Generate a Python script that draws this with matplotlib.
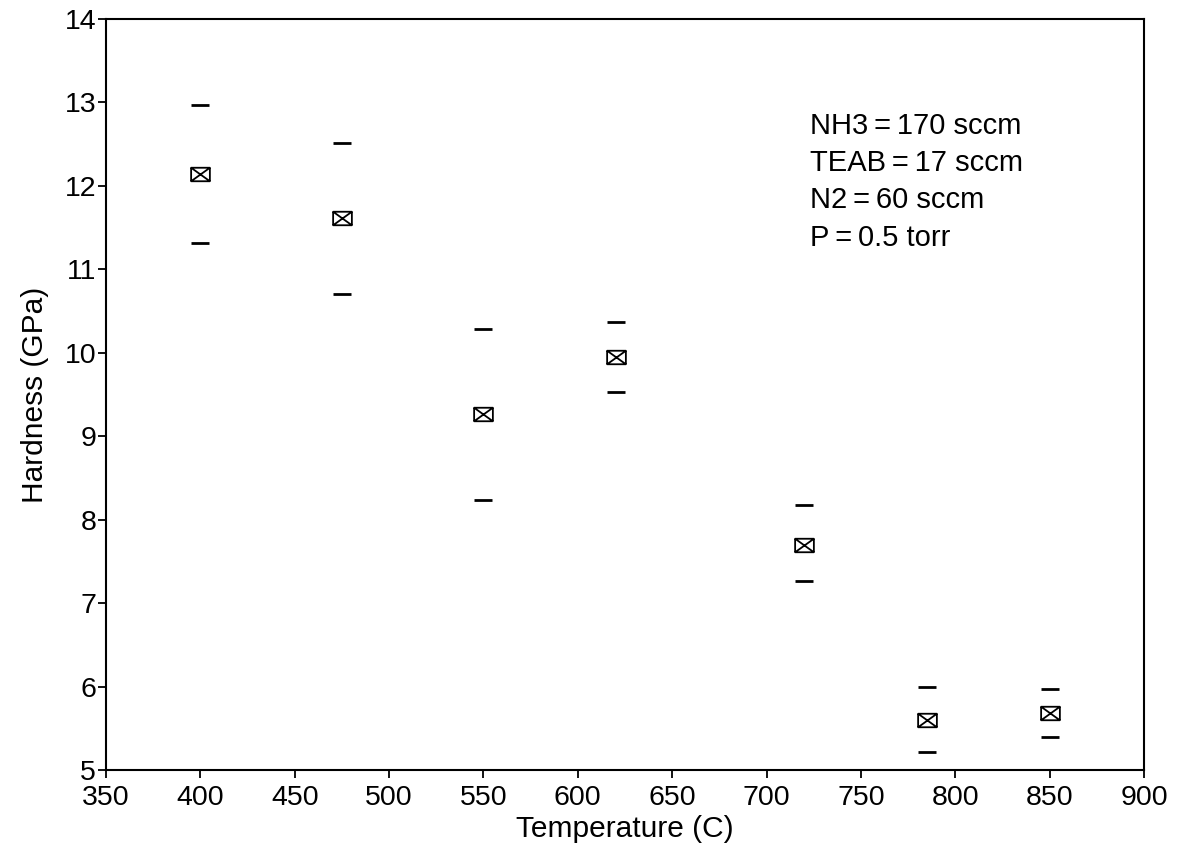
import matplotlib
matplotlib.use("Agg")
import matplotlib.pyplot as plt
from matplotlib.path import Path
import numpy as np

temperature = [400, 475, 550, 620, 720, 785, 850]
hardness = [12.14, 11.61, 9.27, 9.95, 7.70, 5.60, 5.68]
hardness_upper = [12.97, 12.51, 10.29, 10.37, 8.17, 6.00, 5.97]
hardness_lower = [11.31, 10.70, 8.24, 9.53, 7.27, 5.22, 5.40]
conditions = ["NH3=170 sccm", "TEAB=17 sccm", "N2=60 sccm", "P=0.5 torr"]

x_ticks = [350, 400, 450, 500, 550, 600, 650, 700, 750, 800, 850, 900]
y_ticks = [5, 6, 7, 8, 9, 10, 11, 12, 13, 14]

plt.rcParams['font.family'] = ['Liberation Sans', 'DejaVu Sans']

# Box-with-X marker
w, h = 1.0, 0.72
verts = [(-w, -h), (w, -h), (w, h), (-w, h), (-w, -h),
         (-w, -h), (w, h),
         (-w, h), (w, -h)]
codes = [Path.MOVETO, Path.LINETO, Path.LINETO, Path.LINETO, Path.CLOSEPOLY,
         Path.MOVETO, Path.LINETO,
         Path.MOVETO, Path.LINETO]
box_x = Path(verts, codes)

fig = plt.figure(figsize=(11.84, 8.51), dpi=100)
ax = fig.add_axes([0.0895, 0.0952, 0.8767, 0.8825])

ax.plot(temperature, hardness, linestyle='none', marker=box_x, markersize=13.5,
        markerfacecolor='white', markeredgecolor='black', markeredgewidth=1.3)
ax.plot(temperature, hardness_upper, linestyle='none', marker='_', markersize=13.5,
        markeredgecolor='black', markeredgewidth=2.0)
ax.plot(temperature, hardness_lower, linestyle='none', marker='_', markersize=13.5,
        markeredgecolor='black', markeredgewidth=2.0)

ax.set_xlim(350, 900)
ax.set_ylim(5, 14)
ax.set_xticks(x_ticks)
ax.set_yticks(y_ticks)
ax.tick_params(direction='out', length=6, width=1.3, labelsize=20.5)
ax.tick_params(axis='x', pad=5)
ax.tick_params(axis='y', pad=1)
for s in ax.spines.values():
    s.set_linewidth(1.5)

ax.set_xlabel("Temperature (C)", fontsize=21.5, labelpad=3)
ax.set_ylabel("Hardness (GPa)", fontsize=21.5, labelpad=11)

text_y = [12.72, 12.27, 11.83, 11.37]
for t, yy in zip(conditions, text_y):
    ax.text(723, yy, t.replace("=", "\u2009=\u2009"), fontsize=21, va='center', ha='left')

fig.savefig("out.png", dpi=100)
